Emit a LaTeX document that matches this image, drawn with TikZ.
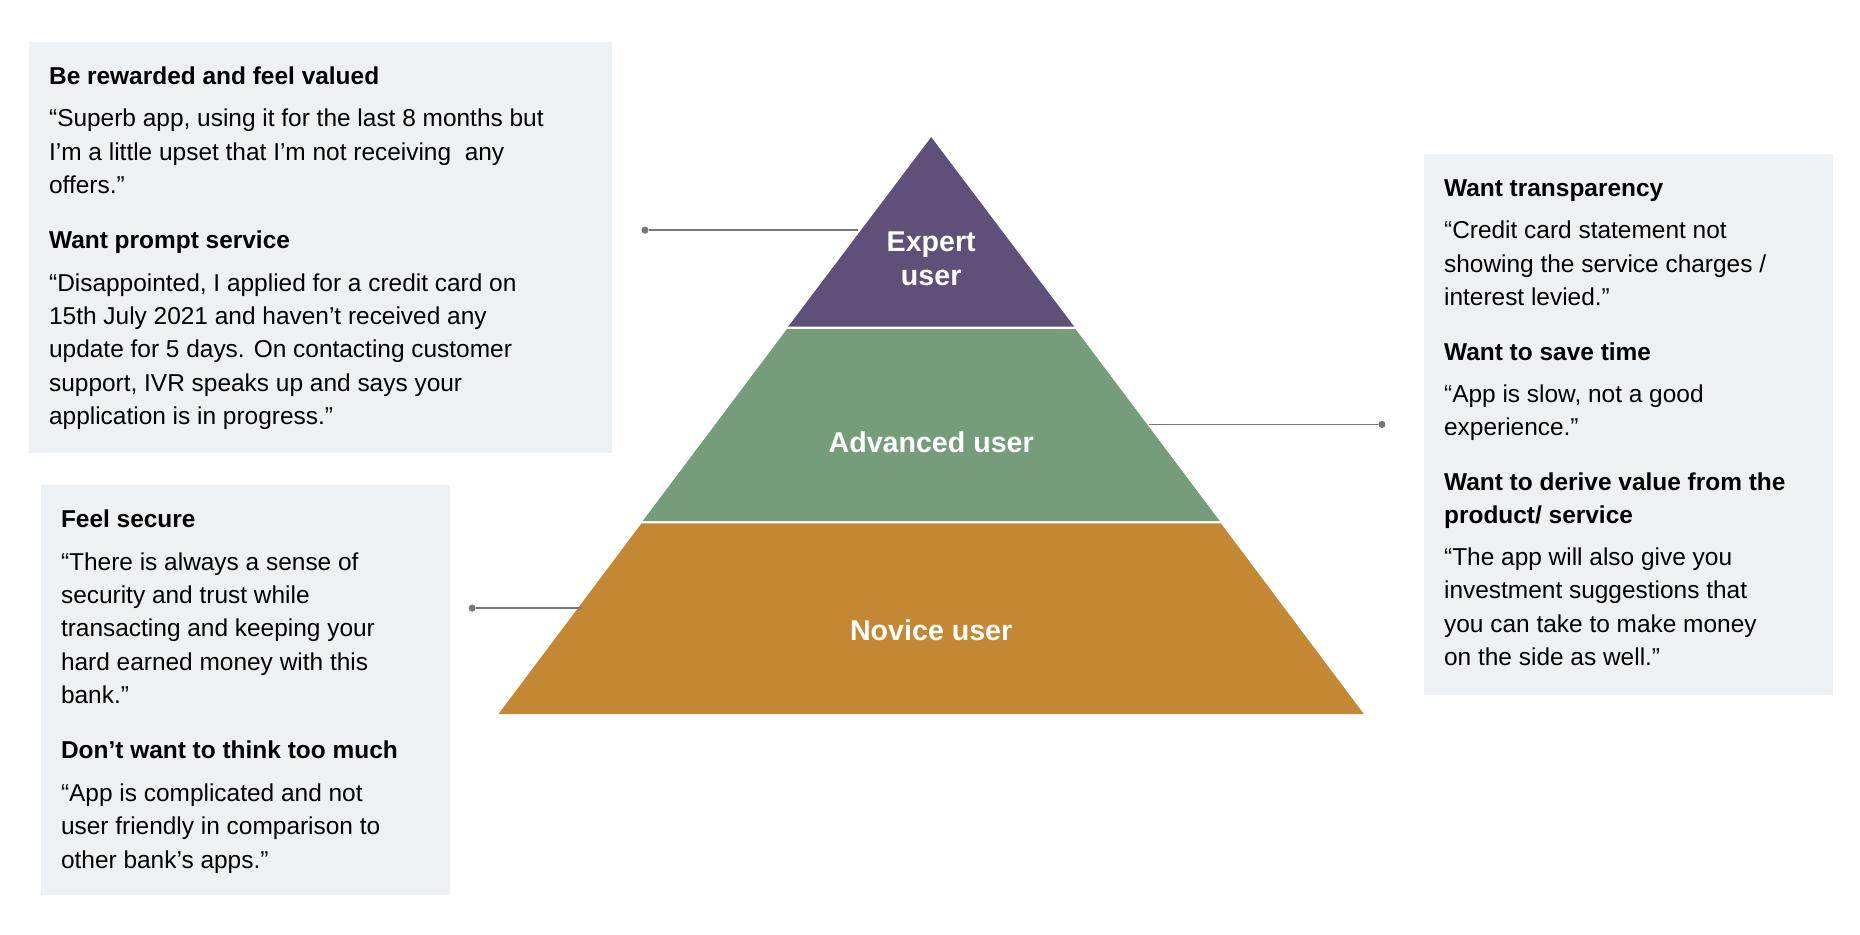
\documentclass[tikz,border=0pt]{standalone}
\usepackage{fontspec}
\setmainfont{Liberation Sans}
\definecolor{expertc}{HTML}{5E5079}
\definecolor{advc}{HTML}{769D7A}
\definecolor{novc}{HTML}{C38831}
\definecolor{boxc}{HTML}{EEF1F4}
\definecolor{linec}{HTML}{777777}
\begin{document}
\begin{tikzpicture}[x=1pt, y=-1pt,
  box_style/.style={fill=boxc, draw=none},
  txt_style/.style={anchor=north west, inner sep=0pt, align=left, font=\fontsize{20.5}{28}\selectfont},
  lvl_style/.style={text=white, font=\bfseries\fontsize{24}{28}\selectfont, align=center},
  dot_style/.style={circle, fill=linec, inner sep=0pt, minimum size=6pt},
  edge_style/.style={draw=linec, line width=1.2pt}]
  \useasboundingbox (0,0) rectangle (1560,783.5);
  % boxes
  \fill[box_style] (24,35) rectangle (513,380);
  \fill[box_style] (34,407) rectangle (377,751);
  \fill[box_style] (1194,129) rectangle (1537,583);
  % pyramid
  \fill[expertc] (781,115) -- (901,274) -- (661,274) -- cycle;
  \fill[advc] (660,276) -- (902,276) -- (1023,437) -- (539,437) -- cycle;
  \fill[novc] (538,439) -- (1024,439) -- (1144,599) -- (418,599) -- cycle;
  \node[lvl_style] (expert) at (781,217) {Expert\\user};
  \node[lvl_style] (adv) at (781,371) {Advanced user};
  \node[lvl_style] (nov) at (781,529) {Novice user};
  % connectors
  \coordinate (e1) at (720,193);
  \coordinate (e2) at (964,356);
  \coordinate (e3) at (488,510);
  \node[dot_style] (d1) at (541,193) {};
  \node[dot_style] (d2) at (1159,356) {};
  \node[dot_style] (d3) at (396,510) {};
  \draw[edge_style] (d1) -- (e1);
  \draw[edge_style] (e2) -- (d2);
  \draw[edge_style] (d3) -- (e3);
  % texts
  \node[txt_style] (t1) at (41,51.4) {\strut\textbf{Be rewarded and feel valued}\\[7pt]
    “Superb app, using it for the last 8 months but\\
    I'm a little upset that I’m not receiving\ \ any\\
    offers.”\\[18pt]
    \textbf{Want prompt service}\\[8pt]
    “Disappointed, I applied for a credit card on\\
    15th July 2021 and haven't received any\\
    update for 5 days. On contacting customer\\
    support, IVR speaks up and says your\\
    application is in progress.”};
  \node[txt_style] (t2) at (51,422.4) {\strut\textbf{Feel secure}\\[8pt]
    “There is always a sense of\\
    security and trust while\\
    transacting and keeping your\\
    hard earned money with this\\
    bank.”\\[18pt]
    \textbf{Don’t want to think too much}\\[8pt]
    “App is complicated and not\\
    user friendly in comparison to\\
    other bank's apps.”};
  \node[txt_style] (t3) at (1211,145.4) {\strut\textbf{Want transparency}\\[7pt]
    “Credit card statement not\\
    showing the service charges /\\
    interest levied.”\\[18pt]
    \textbf{Want to save time}\\[7pt]
    “App is slow, not a good\\
    experience.”\\[18pt]
    \textbf{Want to derive value from the}\\
    \textbf{product/ service}\\[7pt]
    “The app will also give you\\
    investment suggestions that\\
    you can take to make money\\
    on the side as well.”};
\end{tikzpicture}
\end{document}
